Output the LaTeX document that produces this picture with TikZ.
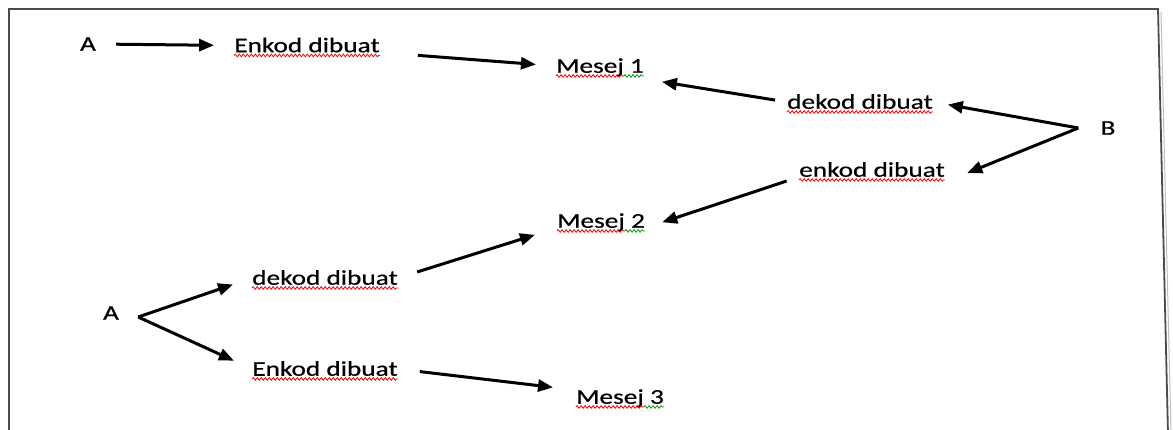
\documentclass[tikz,border=0pt]{standalone}
\usepackage{fontspec}
\setmainfont{Carlito}
\newfontfamily\lblfont{Carlito}[FakeBold=0.5]
\usetikzlibrary{arrows.meta,calc,decorations.pathmorphing}

\begin{document}
\begin{tikzpicture}[x=1pt,y=-1pt,
    lbl/.style={inner sep=0pt,xscale=1.3,font=\lblfont\fontsize{21}{25}\selectfont,text height=13.5pt,text depth=0pt},
    arr/.style={line width=3pt,-{Triangle[length=15pt,width=12pt]},shorten <=20pt,shorten >=20pt},
    squig/.style={line width=0.8pt,decorate,decoration={snake,amplitude=1.3pt,segment length=4pt}}]
    \useasboundingbox (0,0) rectangle (1173,430);
    \draw[line width=1.8pt,black!70] (9,434) -- (9,9) -- (1158,9) -- (1168,434);
    \draw[line width=1pt,black!25] (1161,12) -- (1171,434);

    \node (A1) at (88,44) [lbl] {A};
    \node (E1) at (307,45.5) [lbl] {Enkod dibuat};
    \node (M1) at (600,66) [lbl] {Mesej 1};
    \node (D1) at (860,102) [lbl] {dekod dibuat};
    \node (B) at (1108,128) [lbl] {B};
    \node (E2) at (872,170) [lbl] {enkod dibuat};
    \node (M2) at (601,221) [lbl] {Mesej 2};
    \node (D2) at (325,278) [lbl] {dekod dibuat};
    \node (A2) at (111,313) [lbl] {A};
    \node (E3) at (325,369) [lbl] {Enkod dibuat};
    \node (M3) at (620,397) [lbl] {Mesej 3};

    \draw[arr] (A1.east) -- (E1.west);
    \draw[arr,shorten <=38pt] (E1.south east) -- (M1.west);
    \draw[arr,shorten <=12pt,shorten >=18pt] (D1.west) -- ([yshift=-6pt]M1.south east);
    \draw[arr,shorten <=0pt,shorten >=15pt] ([xshift=-22pt]B.west) -- (D1.east);
    \draw[arr,shorten <=0pt,shorten >=24pt] ([xshift=-22pt]B.west) -- ([yshift=-5pt]E2.south east);
    \draw[arr,shorten <=13pt,shorten >=18pt] (E2.south west) -- (M2.south east);
    \draw[arr,shorten <=0pt] ([xshift=19pt,yshift=-4pt]A2.east) -- (D2.west);
    \draw[arr,shorten <=0pt] ([xshift=19pt,yshift=-4pt]A2.east) -- (E3.west);
    \draw[arr,shorten >=23pt] (D2.east) -- (M2.south west);
    \draw[arr,shorten <=22pt,shorten >=23pt] (E3.east) -- (M3.north west);

    \foreach \n in {E1,D1,E2,D2,E3}
      \draw[squig,red] ($(\n.south west)+(0,3)$) -- ($(\n.south east)+(0,3)$);
    \foreach \n in {M1,M2,M3} {
      \draw[squig,red] ($(\n.south west)+(0,3)$) -- ($(\n.south west)!.77!(\n.south east)+(0,3)$);
      \draw[squig,green!60!black] ($(\n.south west)!.77!(\n.south east)+(0,3)$) -- ($(\n.south east)+(0,3)$);
    }
  \end{tikzpicture}
\end{document}
